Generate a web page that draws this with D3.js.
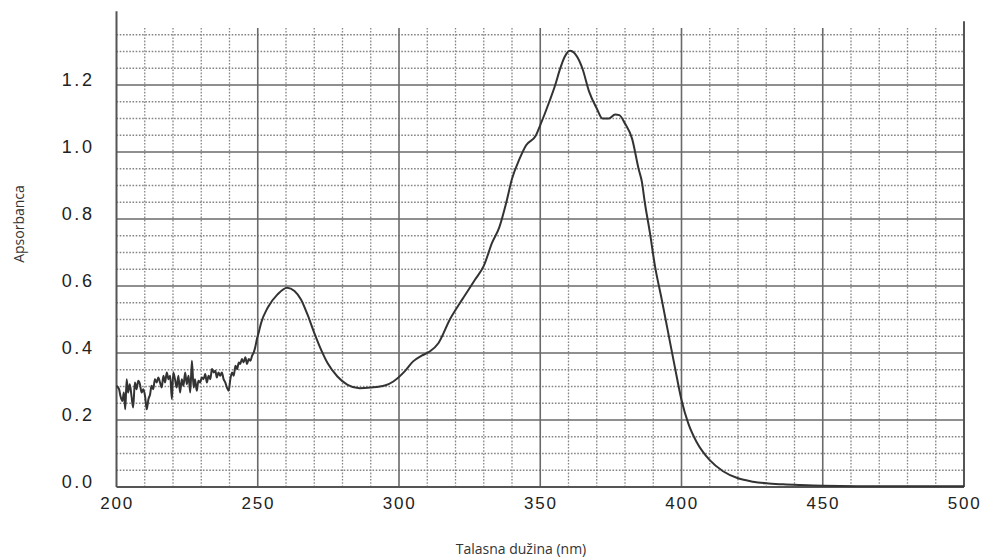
<!DOCTYPE html>
<html>
<head>
<meta charset="utf-8">
<script src="https://cdn.jsdelivr.net/npm/d3@7/dist/d3.min.js"></script>
<style>
  html, body { margin: 0; padding: 0; background: #fff; }
  svg { display: block; }
</style>
</head>
<body>
<svg id="chart" width="984" height="560"></svg>
<script>
// ---- Data ----
const wavelength = [
  200.0,200.9,201.4,202.1,202.6,203.1,203.6,204.1,204.7,205.3,205.9,206.5,207.1,207.7,208.3,208.9,209.5,210.1,210.7,211.3,
  211.9,212.4,213.0,213.6,214.2,214.8,215.4,216.0,216.6,217.2,217.8,218.4,219.0,219.6,220.1,220.7,221.3,221.9,222.5,223.1,
  223.7,224.3,224.9,225.5,226.1,226.7,227.3,227.8,228.4,229.0,229.6,230.2,230.8,231.4,232.0,232.6,233.2,233.8,234.4,235.0,
  235.5,236.1,236.7,237.3,237.9,238.5,239.1,239.7,240.3,240.9,241.5,242.1,242.7,243.3,243.8,244.4,245.0,245.6,246.2,246.8,
  247.4,248.0,248.6,249.1,249.7,250.3,251.2,253.5,257.0,260.4,263.0,265.3,267.6,270.0,272.4,274.7,278.2,281.8,286.0,290.0,
  295.0,298.0,302.0,305.0,308.0,311.0,314.0,318.0,322.4,327.0,330.0,333.0,335.5,338.0,340.0,342.7,345.0,348.5,350.0,353.2,
  355.3,356.9,358.7,360.5,362.6,364.9,367.3,370.0,372.0,374.3,376.5,378.0,380.0,382.5,384.8,386.0,387.0,388.8,390.6,393.0,
  395.3,397.6,400.0,402.4,405.3,410.0,414.7,420.0,425.3,430.0,436.0,442.0,450.0,475.0,500.0
];
const absorbance = [
  0.302,0.292,0.272,0.257,0.282,0.232,0.322,0.282,0.307,0.272,0.237,0.312,0.292,0.317,0.307,0.282,0.292,0.272,0.232,0.262,
  0.277,0.302,0.292,0.322,0.312,0.327,0.312,0.297,0.332,0.312,0.342,0.322,0.332,0.262,0.342,0.322,0.297,0.332,0.282,0.322,
  0.302,0.342,0.307,0.332,0.282,0.377,0.297,0.322,0.287,0.317,0.312,0.327,0.322,0.337,0.312,0.332,0.322,0.352,0.342,0.347,
  0.327,0.342,0.332,0.342,0.322,0.312,0.297,0.287,0.322,0.342,0.332,0.362,0.352,0.372,0.367,0.382,0.372,0.387,0.367,0.382,
  0.377,0.392,0.402,0.417,0.442,0.460,0.490,0.535,0.575,0.595,0.585,0.560,0.515,0.460,0.410,0.370,0.330,0.305,0.295,0.297,
  0.303,0.315,0.345,0.375,0.392,0.405,0.430,0.500,0.560,0.620,0.660,0.730,0.775,0.850,0.920,0.980,1.020,1.050,1.080,1.150,
  1.200,1.245,1.285,1.302,1.290,1.250,1.180,1.130,1.100,1.100,1.112,1.110,1.085,1.040,0.950,0.910,0.850,0.760,0.660,0.560,
  0.460,0.360,0.260,0.190,0.135,0.080,0.047,0.026,0.016,0.011,0.008,0.006,0.004,0.002,0.002
];
const xTicks = [200, 250, 300, 350, 400, 450, 500];
const yTicks = [0.0, 0.2, 0.4, 0.6, 0.8, 1.0, 1.2];
const xTitle = "Talasna dužina (nm)";
const yTitle = "Apsorbanca";

// ---- Layout ----
const svg = d3.select("#chart");
const x = d3.scaleLinear().domain([200, 500]).range([116.5, 964]);
const y = d3.scaleLinear().domain([0, 1.4]).range([487, 18]);

const gridColor = "#6a6a6a";
const g = svg.append("g");

// minor vertical dotted lines every 10 nm
const minorX = d3.range(210, 500, 10).filter(v => v % 50 !== 0);
g.selectAll(".mvx").data(minorX).join("line")
  .attr("x1", d => x(d)).attr("x2", d => x(d))
  .attr("y1", y(0)).attr("y2", y(1.37))
  .attr("stroke", "#858585").attr("stroke-width", 1.3)
  .attr("stroke-dasharray", "1.6,1.6");

// minor horizontal dotted lines every 0.05
const minorY = d3.range(1, 28).map(i => +(i * 0.05).toFixed(2)).filter(v => Math.round(v * 100) % 20 !== 0);
g.selectAll(".mhy").data(minorY).join("line")
  .attr("x1", x(200)).attr("x2", x(500))
  .attr("y1", d => y(d)).attr("y2", d => y(d))
  .attr("stroke", "#858585").attr("stroke-width", 1.3)
  .attr("stroke-dasharray", "1.6,1.6");

// major vertical solid lines
g.selectAll(".Mvx").data(xTicks.slice(1, -1)).join("line")
  .attr("x1", d => x(d)).attr("x2", d => x(d))
  .attr("y1", y(0)).attr("y2", y(1.37))
  .attr("stroke", gridColor).attr("stroke-width", 1.6);

// major horizontal solid lines
g.selectAll(".Mhy").data(yTicks.slice(1)).join("line")
  .attr("x1", x(200)).attr("x2", x(500))
  .attr("y1", d => y(d)).attr("y2", d => y(d))
  .attr("stroke", gridColor).attr("stroke-width", 1.6);

// frame: left, right, bottom
g.append("line").attr("x1", x(200)).attr("x2", x(200)).attr("y1", y(0)).attr("y2", y(1.42))
  .attr("stroke", "#555").attr("stroke-width", 2);
g.append("line").attr("x1", x(500)).attr("x2", x(500)).attr("y1", y(0)).attr("y2", y(1.39))
  .attr("stroke", "#555").attr("stroke-width", 2);
g.append("line").attr("x1", x(200)).attr("x2", x(500)).attr("y1", y(0)).attr("y2", y(0))
  .attr("stroke", "#555").attr("stroke-width", 2);

// axes labels (via d3 axes, with lines hidden)
const xAxis = svg.append("g").attr("transform", `translate(0,${y(0)})`)
  .call(d3.axisBottom(x).tickValues(xTicks).tickFormat(d3.format("d")).tickSize(0).tickPadding(6));
xAxis.select(".domain").remove();
xAxis.selectAll("text")
  .attr("font-family", "Liberation Sans, Arial, sans-serif")
  .attr("font-size", 17).attr("letter-spacing", 1.8).attr("fill", "#222")
  .attr("dy", "0.95em");

const yAxis = svg.append("g").attr("transform", `translate(${x(200)},0)`)
  .call(d3.axisLeft(y).tickValues(yTicks).tickFormat(d3.format(".1f")).tickSize(0).tickPadding(22));
yAxis.select(".domain").remove();
yAxis.selectAll("text")
  .attr("font-family", "Liberation Sans, Arial, sans-serif")
  .attr("font-size", 18).attr("letter-spacing", 2.6).attr("fill", "#222")
  .attr("dy", "0.05em");

// curve
const pts = wavelength.map((w, i) => [w, absorbance[i]]);
const line = d3.line().x(d => x(d[0])).y(d => y(d[1])).curve(d3.curveMonotoneX);
svg.append("path").datum(pts).attr("d", line)
  .attr("fill", "none").attr("stroke", "#333").attr("stroke-width", 2)
  .attr("stroke-linejoin", "round");

// titles
svg.append("text").attr("x", 521).attr("y", 554).attr("text-anchor", "middle")
  .attr("font-family", "Open Sans, sans-serif").attr("font-size", 14).attr("fill", "#333")
  .text(xTitle);
svg.append("text").attr("transform", "translate(24,224) rotate(-90)").attr("text-anchor", "middle")
  .attr("font-family", "Open Sans, sans-serif").attr("font-size", 14).attr("fill", "#333")
  .text(yTitle);
</script>
</body>
</html>
